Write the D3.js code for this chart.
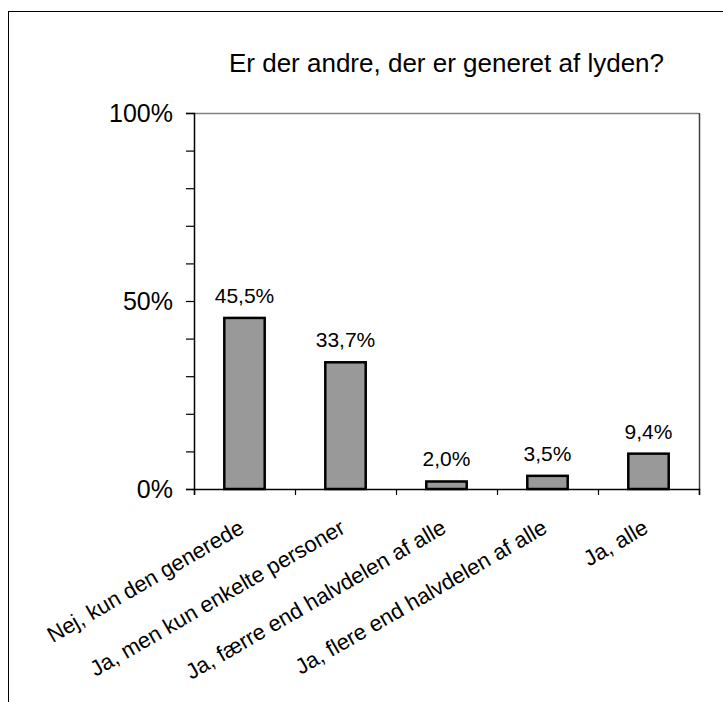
<!DOCTYPE html>
<html lang="da">
<head>
<meta charset="utf-8">
<title>Er der andre, der er generet af lyden?</title>
<script src="https://d3js.org/d3.v7.min.js"></script>
<style>
  body { margin: 0; background: #fff; }
  svg { display: block; font-family: "Liberation Sans", Arial, sans-serif; }
</style>
</head>
<body>
<div id="chart"></div>
<script>
// data
var categories = [
  "Nej, kun den generede",
  "Ja, men kun enkelte personer",
  "Ja, færre end halvdelen af alle",
  "Ja, flere end halvdelen af alle",
  "Ja, alle"
];
var values = [0.455, 0.337, 0.020, 0.035, 0.094];
var valueLabels = ["45,5%", "33,7%", "2,0%", "3,5%", "9,4%"];
var yTickValues = [0, 0.1, 0.2, 0.3, 0.4, 0.5, 0.6, 0.7, 0.8, 0.9, 1];
var yTickLabels = {0: "0%", 0.5: "50%", 1: "100%"};
var title = "Er der andre, der er generet af lyden?";

var w = 723, h = 702;
var plot = {left: 194, right: 699, top: 113, bottom: 489};

var svg = d3.select("#chart").append("svg")
  .attr("width", w)
  .attr("height", h);

// outer frame (runs off the right and bottom edge)
svg.append("rect")
  .attr("x", 8.5).attr("y", 11.5)
  .attr("width", w + 20).attr("height", h + 20)
  .attr("fill", "none")
  .attr("stroke", "#000")
  .attr("stroke-width", 1);

var x = d3.scaleBand()
  .domain(categories)
  .range([plot.left, plot.right])
  .paddingInner(0.6)
  .paddingOuter(0.3);

var xEdge = d3.scaleLinear()
  .domain([0, categories.length])
  .range([plot.left, plot.right]);

var y = d3.scaleLinear()
  .domain([0, 1])
  .range([plot.bottom, plot.top]);

// plot area border: top and right
svg.append("line")
  .attr("x1", plot.left).attr("x2", plot.right)
  .attr("y1", plot.top + 0.5).attr("y2", plot.top + 0.5)
  .attr("stroke", "#808080").attr("stroke-width", 1.5);
svg.append("line")
  .attr("x1", plot.right + 0.5).attr("x2", plot.right + 0.5)
  .attr("y1", plot.top).attr("y2", plot.bottom)
  .attr("stroke", "#404040").attr("stroke-width", 1.5);

// title
svg.append("text")
  .attr("x", (plot.left + plot.right) / 2)
  .attr("y", 72)
  .attr("text-anchor", "middle")
  .attr("font-size", 26)
  .attr("fill", "#000")
  .text(title);

// bars
svg.selectAll("rect.bar")
  .data(values)
  .enter()
  .append("rect")
  .attr("class", "bar")
  .attr("x", (d, i) => x(categories[i]))
  .attr("y", d => y(d))
  .attr("width", x.bandwidth())
  .attr("height", d => y(0) - y(d))
  .attr("fill", "#999999")
  .attr("stroke", "#000")
  .attr("stroke-width", 2.5);

// value labels
svg.selectAll("text.val")
  .data(values)
  .enter()
  .append("text")
  .attr("class", "val")
  .attr("x", (d, i) => x(categories[i]) + x.bandwidth() / 2)
  .attr("y", d => y(d) - 15)
  .attr("text-anchor", "middle")
  .attr("font-size", 21)
  .attr("fill", "#000")
  .text((d, i) => valueLabels[i]);

// y axis
var yAxis = svg.append("g")
  .attr("transform", "translate(" + plot.left + ",0)")
  .call(d3.axisLeft(y)
    .tickValues(yTickValues)
    .tickSize(8)
    .tickPadding(13)
    .tickFormat(d => yTickLabels[Math.round(d * 10) / 10] || ""));
yAxis.select(".domain").attr("stroke", "#000").attr("stroke-width", 1.5);
yAxis.selectAll(".tick line").attr("stroke", "#000").attr("stroke-width", 1.2);
yAxis.selectAll(".tick text")
  .attr("font-size", 25)
  .attr("font-family", "Liberation Sans, Arial, sans-serif")
  .attr("fill", "#000");

// x axis (ticks at category boundaries)
var xAxis = svg.append("g")
  .attr("transform", "translate(0," + plot.bottom + ")")
  .call(d3.axisBottom(xEdge)
    .tickValues(d3.range(0, categories.length + 1))
    .tickSize(6)
    .tickFormat(""));
xAxis.select(".domain").attr("stroke", "#000").attr("stroke-width", 1.5);
xAxis.selectAll(".tick line").attr("stroke", "#000").attr("stroke-width", 1.2);

// rotated category labels
svg.selectAll("text.cat")
  .data(categories)
  .enter()
  .append("text")
  .attr("class", "cat")
  .attr("transform", d => "translate(" + (x(d) + x.bandwidth() / 2 + 1) + "," + (plot.bottom + 43) + ") rotate(-30)")
  .attr("text-anchor", "end")
  .attr("font-size", 22)
  .attr("fill", "#000")
  .text(d => d);
</script>
</body>
</html>
